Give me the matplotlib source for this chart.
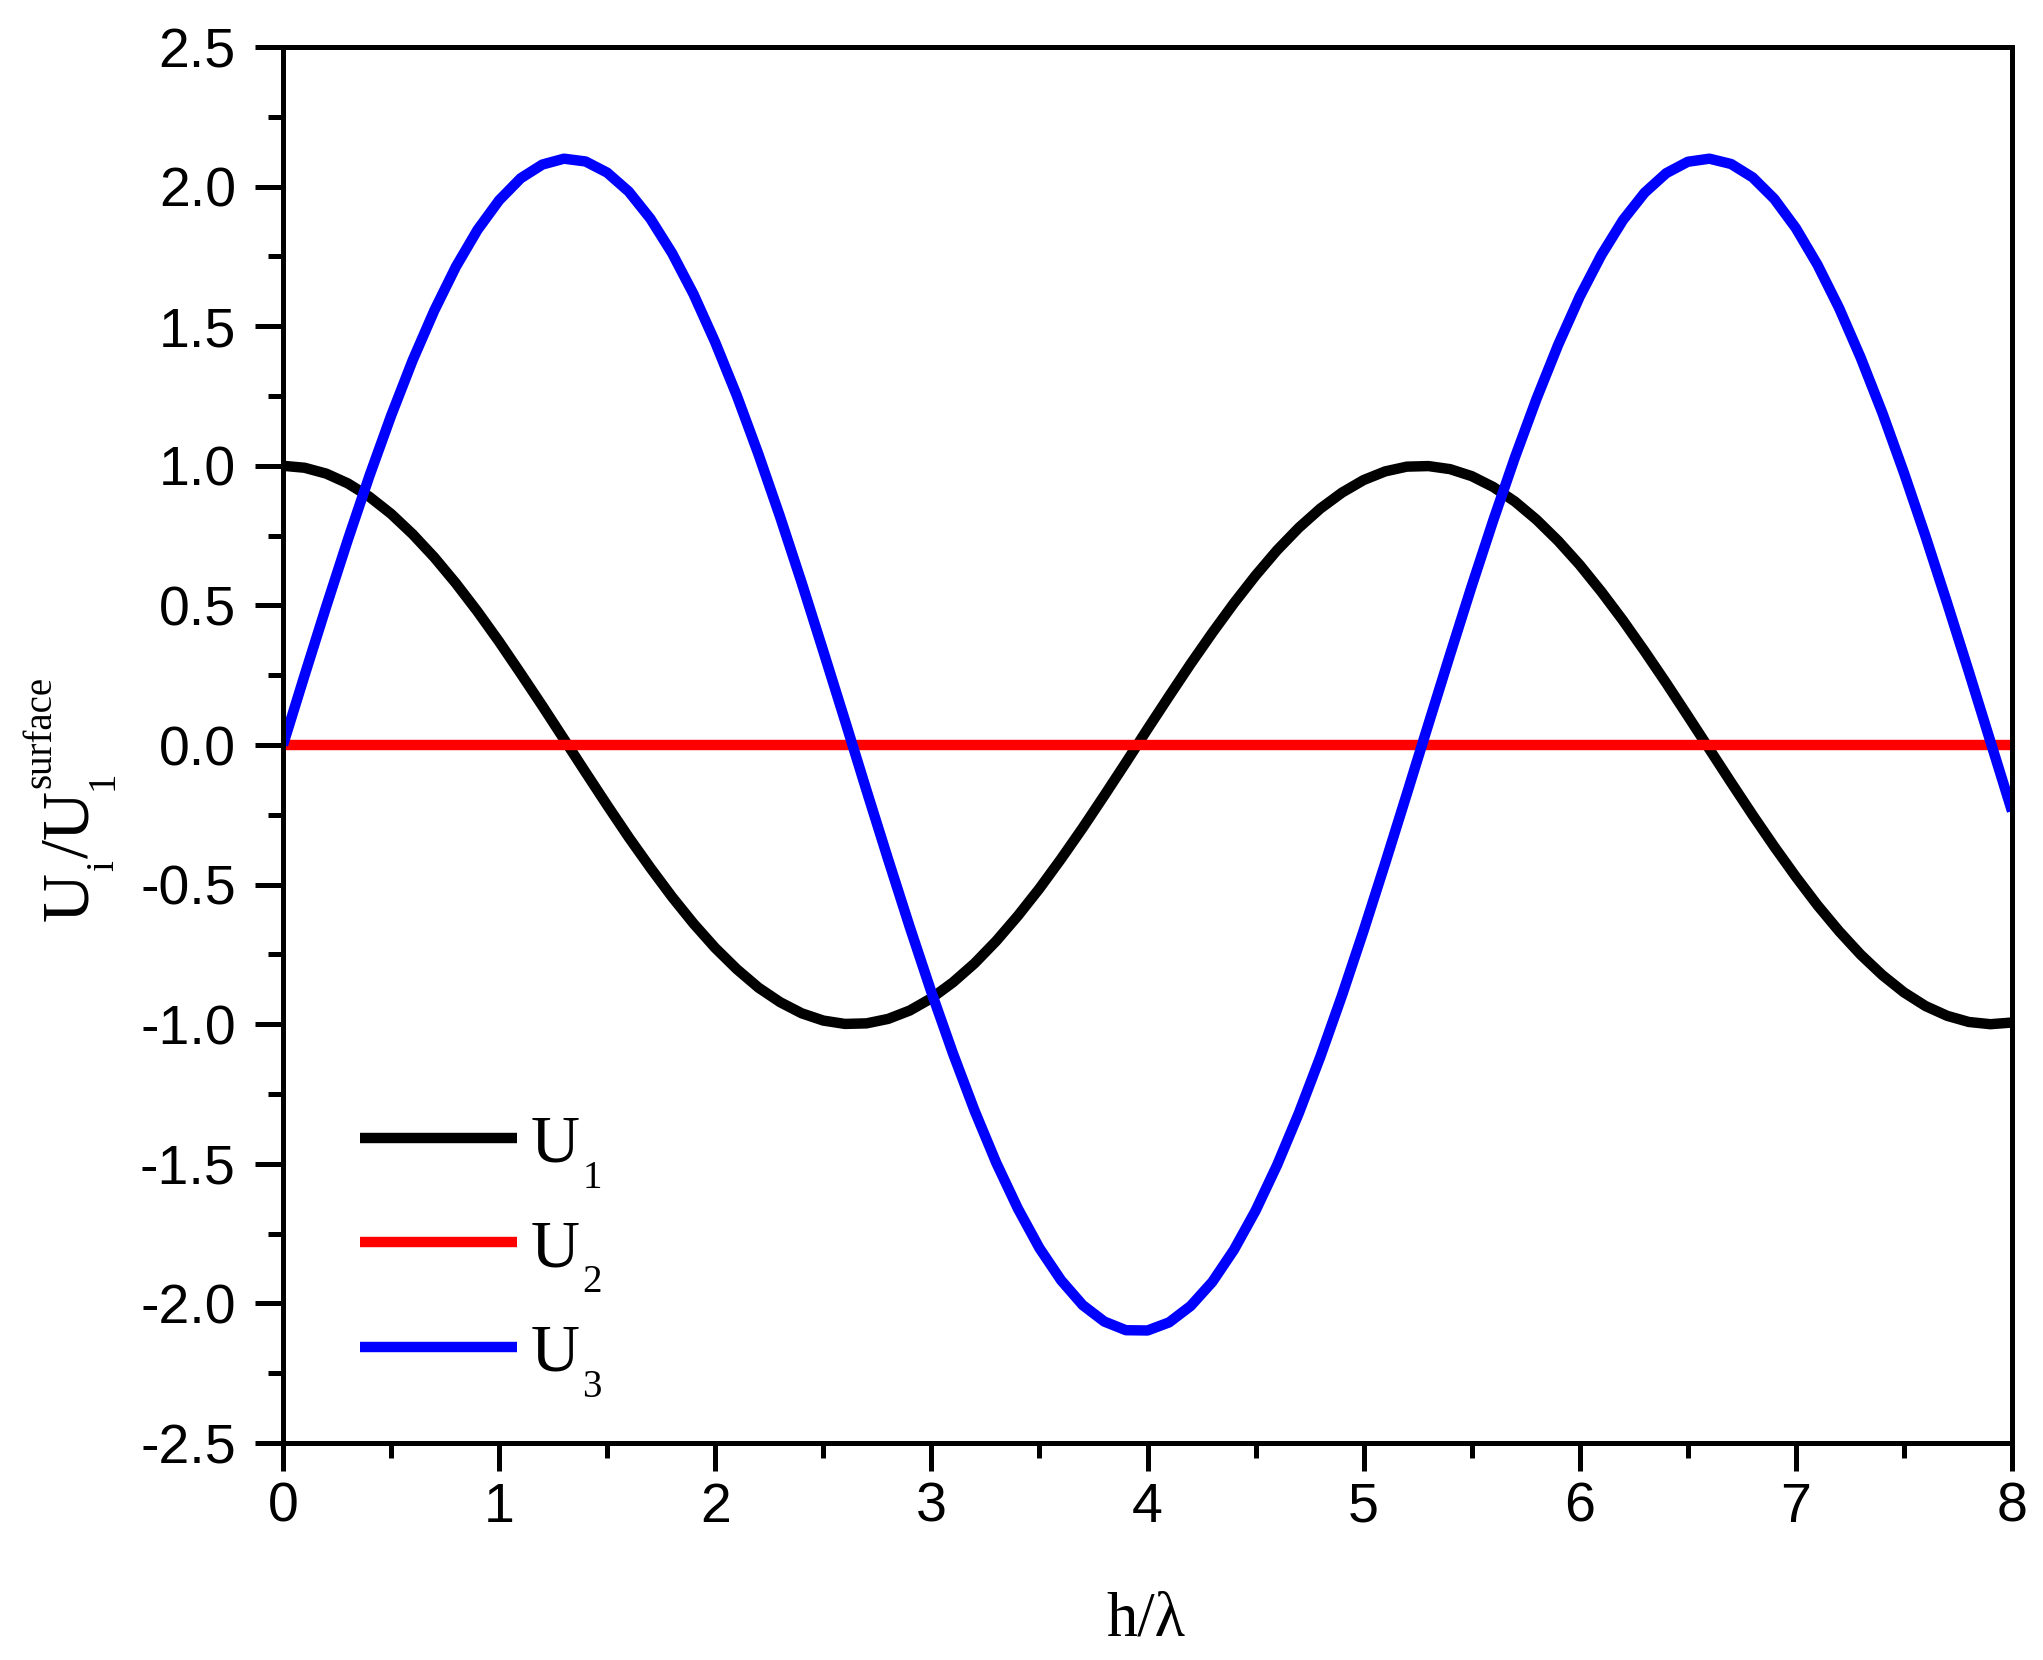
import matplotlib
matplotlib.use("Agg")
import matplotlib.pyplot as plt
from matplotlib.ticker import MultipleLocator

# ---- data ----
h = [round(0.1 * k, 1) for k in range(81)]

U1 = [1.000, 0.993, 0.972, 0.937, 0.889, 0.828, 0.755, 0.672, 0.579, 0.478,
      0.370, 0.256, 0.140, 0.021, -0.098, -0.216, -0.331, -0.440, -0.544, -0.640,
      -0.727, -0.803, -0.869, -0.921, -0.961, -0.987, -0.999, -0.997, -0.981, -0.951,
      -0.907, -0.850, -0.782, -0.702, -0.612, -0.514, -0.408, -0.297, -0.181, -0.063,
      0.057, 0.175, 0.291, 0.402, 0.508, 0.607, 0.698, 0.778, 0.847, 0.904,
      0.949, 0.980, 0.997, 0.999, 0.988, 0.963, 0.924, 0.872, 0.807, 0.731,
      0.645, 0.549, 0.446, 0.336, 0.222, 0.104, -0.015, -0.134, -0.251, -0.364,
      -0.472, -0.574, -0.667, -0.751, -0.824, -0.886, -0.935, -0.970, -0.992, -1.000,
      -0.994]

U2 = [0.0] * 81

U3 = [0.000, 0.250, 0.496, 0.735, 0.964, 1.179, 1.378, 1.556, 1.713, 1.845,
      1.951, 2.030, 2.079, 2.100, 2.090, 2.050, 1.982, 1.885, 1.762, 1.614,
      1.442, 1.251, 1.041, 0.817, 0.581, 0.336, 0.088, -0.163, -0.410, -0.652,
      -0.885, -1.105, -1.310, -1.496, -1.660, -1.802, -1.917, -2.006, -2.065, -2.096,
      -2.097, -2.068, -2.009, -1.923, -1.808, -1.668, -1.504, -1.319, -1.116, -0.897,
      -0.665, -0.423, -0.175, 0.075, 0.324, 0.569, 0.805, 1.030, 1.240, 1.433,
      1.606, 1.755, 1.880, 1.978, 2.048, 2.089, 2.100, 2.081, 2.033, 1.956,
      1.851, 1.720, 1.565, 1.387, 1.190, 0.975, 0.747, 0.508, 0.263, 0.013,
      -0.237]

series_main = ["U", "U", "U"]
series_sub = ["1", "2", "3"]
series_colors = ["#000000", "#ff0000", "#0000ff"]

x_ticks = [0, 1, 2, 3, 4, 5, 6, 7, 8]
y_ticks = [-2.5, -2.0, -1.5, -1.0, -0.5, 0.0, 0.5, 1.0, 1.5, 2.0, 2.5]

# ---- style ----
SERIF = ["Liberation Serif", "DejaVu Serif"]
plt.rcParams["font.family"] = ["Liberation Sans", "DejaVu Sans"]

W, H = 2043, 1660
fig = plt.figure(figsize=(W / 100, H / 100), dpi=100)
ax = fig.add_axes([283 / W, 1 - 1443 / H, (2012 - 283) / W, (1443 - 47) / H])

for ys, lab, col in zip([U1, U2, U3], series_main, series_colors):
    ax.plot(h, ys, color=col, lw=7.5, label=lab,
            solid_capstyle="butt", solid_joinstyle="round")

ax.set_xlim(0, 8)
ax.set_ylim(-2.5, 2.5)
ax.set_xticks(x_ticks)
ax.set_xticklabels([str(t) for t in x_ticks])
ax.set_yticks(y_ticks)
ax.set_yticklabels([f"{t:.1f}" for t in y_ticks])
ax.xaxis.set_minor_locator(MultipleLocator(0.5))
ax.yaxis.set_minor_locator(MultipleLocator(0.25))

for sp in ax.spines.values():
    sp.set_linewidth(3.6)

ax.tick_params(which="both", direction="out", top=False, right=False, width=3.6)
ax.tick_params(which="major", length=20, labelsize=40)
ax.tick_params(axis="y", which="major", pad=14)
ax.tick_params(axis="x", which="major", pad=8)
ax.tick_params(which="minor", length=11)


def fxy(px, py):
    return px / W, 1 - py / H


# x label
fig.text(*fxy(1146, 1635), "h/λ", family=SERIF, fontsize=45,
         ha="center", va="baseline")

# y label  U_i / U_1^surface  (composed, rotated 90°)
ylabel_pieces = [
    ("U", 49, 87, 921),
    ("i", 28, 113, 871),
    ("/", 49, 87, 858),
    ("U", 49, 87, 839),
    ("1", 28, 113, 790),
    ("surface", 28, 50, 788),
]
for s, fs, px, py in ylabel_pieces:
    fig.text(*fxy(px, py), s, family=SERIF, fontsize=fs, rotation=90,
             rotation_mode="anchor", ha="left", va="baseline")

# legend
leg = ax.legend(loc="upper left", bbox_to_anchor=((360 - 283) / 1729, (1443 - 1114) / 1396),
                frameon=False, prop={"family": SERIF, "size": 49},
                handlelength=2.31, handletextpad=0.19, labelspacing=0.63,
                borderpad=0, borderaxespad=0)
for t, sub in zip(leg.get_texts(), series_sub):
    ax.annotate(sub, xy=(1, 0), xycoords=t, xytext=(3, -12),
                textcoords="offset pixels", ha="left", va="baseline",
                family=SERIF, fontsize=28, zorder=10)

fig.savefig("out.png", dpi=100, facecolor="white")
